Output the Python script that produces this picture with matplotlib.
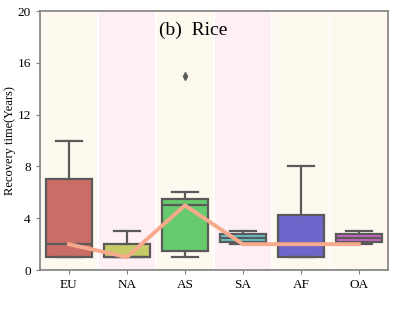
import matplotlib
matplotlib.use('Agg')
import matplotlib.pyplot as plt
import seaborn as sns

regions = ['EU', 'NA', 'AS', 'SA', 'AF', 'OA']
whislo = [1, 1, 1, 2, 1, 2]
q1 = [1, 1, 1.5, 2.2, 1, 2.2]
med = [2, 1, 5, 2.5, 2, 2.5]
q3 = [7, 2, 5.5, 2.8, 4.25, 2.8]
whishi = [10, 3, 6, 3, 8, 3]
fliers = [[], [], [15], [], [], []]
trend = [2, 1, 5, 2, 2, 2]
band_colors = ['#fdf9ef', '#fdeff4', '#fdf9ef', '#fdeff4', '#fdf9ef', '#fdf9ef']

plt.rcParams['font.family'] = 'Liberation Serif'

# box colours: seaborn hls palette, desaturated like sns.boxplot does
pal = [sns.desaturate(c, 0.75) for c in sns.color_palette('hls', 6)]

fig = plt.figure(figsize=(3.95, 3.09), dpi=100)
ax = fig.add_axes([0.101, 0.126, 0.881, 0.838])

# background bands
for i, c in enumerate(band_colors):
    ax.axvspan(i - 0.5, i + 0.5, facecolor=c, edgecolor='white', linewidth=1.2, zorder=0)

stats = []
for i in range(len(regions)):
    stats.append(dict(label=regions[i], whislo=whislo[i], q1=q1[i], med=med[i],
                      q3=q3[i], whishi=whishi[i], fliers=fliers[i]))

edge = '#5a5a5a'
bp = ax.bxp(stats, positions=range(len(regions)), widths=0.8, patch_artist=True,
            boxprops=dict(edgecolor=edge, linewidth=1.6),
            medianprops=dict(color=edge, linewidth=1.6),
            whiskerprops=dict(color=edge, linewidth=1.6),
            capprops=dict(color=edge, linewidth=1.6),
            flierprops=dict(marker='d', markerfacecolor=edge, markeredgecolor=edge, markersize=4),
            capwidths=0.45)
for patch, c in zip(bp['boxes'], pal):
    patch.set_facecolor(c)

ax.plot(range(len(regions)), trend, color='#f7a98b', linewidth=2.8, zorder=5)

ax.set_xlim(-0.5, 5.5)
ax.set_ylim(0, 20)
ax.set_yticks([0, 4, 8, 12, 16, 20])
ax.set_xticks(range(len(regions)))
ax.set_xticklabels(regions, fontsize=9.5)
ax.tick_params(axis='y', labelsize=9.5, length=3, color='#808080')
ax.tick_params(axis='x', length=3, color='#808080')
ax.set_ylabel('Recovery time(Years)', fontsize=9, labelpad=1)
for s in ax.spines.values():
    s.set_color('#808080')
    s.set_linewidth(1.2)

ax.text(0.44, 0.925, '(b)  Rice', transform=ax.transAxes, ha='center', va='center', fontsize=14)

fig.savefig('out.png', dpi=100)
